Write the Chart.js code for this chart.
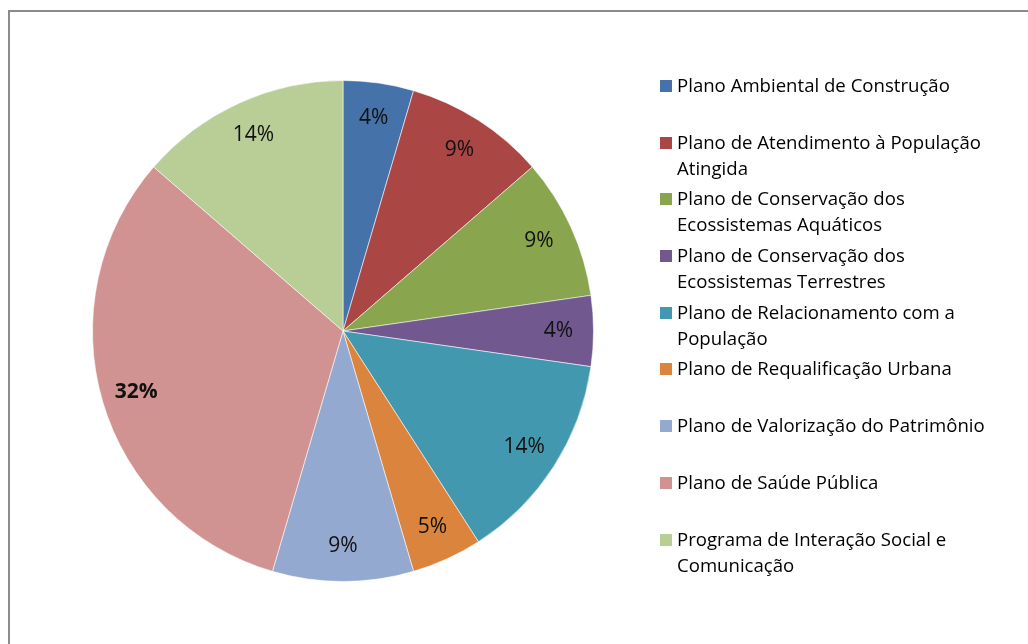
<!DOCTYPE html>
<html lang="pt">
<head>
<meta charset="utf-8">
<title>Planos</title>
<script src="https://cdn.jsdelivr.net/npm/chart.js@4/dist/chart.umd.min.js"></script>
<style>
  html, body { margin: 0; padding: 0; background: #fff; overflow: hidden; }
  #page { position: relative; width: 1028px; height: 644px; overflow: hidden; }
  #frame {
    position: absolute; left: 8px; top: 10px; width: 1100px; height: 700px;
    border: 2px solid #8b8b8b; box-sizing: border-box;
  }
  #chart-wrap { position: absolute; left: 0; top: 0; width: 1028px; height: 644px; }
  #legend {
    position: absolute; left: 660px; top: 72px; width: 332px;
    font-family: "Open Sans", "Noto Sans", sans-serif; font-size: 18.6px; color: #000;
  }
  .legend__item { position: relative; height: 56.7px; padding-left: 17px; line-height: 26px; box-sizing: border-box; }
  .legend__box { position: absolute; left: 0; top: 8px; width: 12px; height: 12px; }
</style>
</head>
<body>
<div id="page">
  <div id="frame"></div>
  <div id="chart-wrap"><canvas id="pie"></canvas></div>
  <div id="legend"></div>
</div>
<script>
// categorias (ordem da legenda / sentido horário a partir do topo)
const categories = [
  'Plano Ambiental de Construção',
  'Plano de Atendimento à População Atingida',
  'Plano de Conservação dos Ecossistemas Aquáticos',
  'Plano de Conservação dos Ecossistemas Terrestres',
  'Plano de Relacionamento com a População',
  'Plano de Requalificação Urbana',
  'Plano de Valorização do Patrimônio',
  'Plano de Saúde Pública',
  'Programa de Interação Social e Comunicação',
];
const counts = [1, 2, 2, 1, 3, 1, 2, 7, 3];
// rótulos como aparecem no gráfico
const percentLabels = ['4%', '9%', '9%', '4%', '14%', '5%', '9%', '32%', '14%'];
const boldLabels = [false, false, false, false, false, false, false, true, false];
const colors = ['#4572A8', '#AA4644', '#89A54E', '#71588F', '#4198AF', '#DB843D', '#93A9CF', '#D19392', '#B9CD96'];

const sliceLabels = {
  id: 'sliceLabels',
  afterDatasetsDraw(chart) {
    const ctx = chart.ctx;
    const meta = chart.getDatasetMeta(0);
    ctx.save();
    ctx.textAlign = 'center';
    ctx.textBaseline = 'middle';
    ctx.fillStyle = '#111';
    meta.data.forEach((arc, i) => {
      const p = arc.getProps(['x', 'y', 'startAngle', 'endAngle', 'outerRadius'], true);
      const mid = (p.startAngle + p.endAngle) / 2;
      const r = p.outerRadius * 0.86;
      ctx.font = (boldLabels[i] ? 'bold ' : '') + '21px "Open Sans", "Noto Sans", sans-serif';
      ctx.fillText(percentLabels[i], p.x + Math.cos(mid) * r, p.y + Math.sin(mid) * r);
    });
    ctx.restore();
  },
};

new Chart(document.getElementById('pie'), {
  type: 'pie',
  data: {
    labels: categories,
    datasets: [{
      data: counts,
      backgroundColor: colors,
      borderColor: 'rgba(255,255,255,0.55)',
      borderWidth: 1,
      hoverOffset: 0,
    }],
  },
  options: {
    responsive: true,
    maintainAspectRatio: false,
    animation: false,
    layout: { padding: { left: 92, right: 434, top: 80, bottom: 62 } },
    plugins: {
      legend: { display: false },
      tooltip: { enabled: false },
    },
  },
  plugins: [sliceLabels],
});

// legenda em HTML (quebra de linha como no original)
const legend = document.getElementById('legend');
categories.forEach((name, i) => {
  const item = document.createElement('div');
  item.className = 'legend__item';
  const box = document.createElement('span');
  box.className = 'legend__box';
  box.style.background = colors[i];
  item.appendChild(box);
  item.appendChild(document.createTextNode(name));
  legend.appendChild(item);
});
</script>
</body>
</html>
